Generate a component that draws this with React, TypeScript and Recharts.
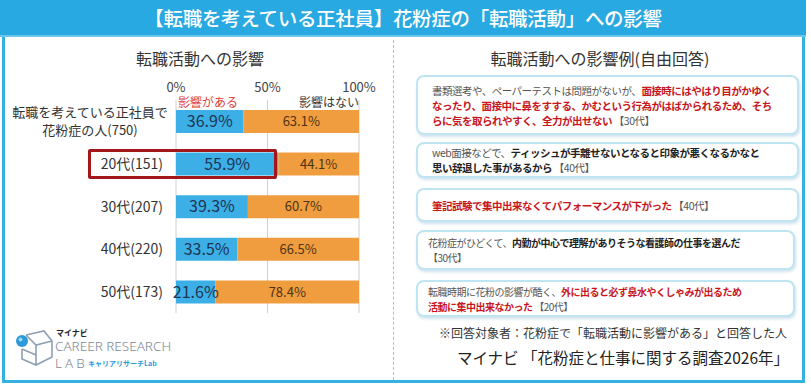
import React from "react";
import {
  BarChart,
  Bar,
  XAxis,
  YAxis,
  CartesianGrid,
  LabelList,
} from "recharts";

const categories = [
  "転職を考えている正社員で\n花粉症の人(750)",
  "20代(151)",
  "30代(207)",
  "40代(220)",
  "50代(173)",
];
const affected = [36.9, 55.9, 39.3, 33.5, 21.6];
const notAffected = [63.1, 44.1, 60.7, 66.5, 78.4];
const xTicks = [0, 50, 100];

const data = categories.map((name, i) => ({
  name,
  affected: affected[i],
  notAffected: notAffected[i],
}));

const FONT = '"Noto Sans CJK JP", "Noto Sans", sans-serif';
const BLUE = "#3cb0e6";
const ORANGE = "#ef9d3e";
const FRAME = "#35b2e0";
const RED = "#c8161d";

function CategoryTick(props: any) {
  const { x, y, payload } = props;
  const lines = String(payload.value).split("\n");
  if (lines.length > 1) {
    return (
      <text x={x - 73} y={y} textAnchor="middle" fill="#333" fontSize={13} fontFamily={FONT}>
        {lines.map((l, i) => (
          <tspan key={i} x={x - 73} dy={i === 0 ? -4 : 18}>
            {l}
          </tspan>
        ))}
      </text>
    );
  }
  return (
    <text x={x} y={y} dy={5} textAnchor="end" fill="#333" fontSize={14} fontFamily={FONT}>
      {lines[0]}
    </text>
  );
}

type Seg = { t: string; c?: "red" | "bold" | "gray" };

const comments: Seg[][][] = [
  [
    [
      { t: "書類選考や、ペーパーテストは問題がないが、", c: "gray" },
      { t: "面接時にはやはり目がかゆく", c: "red" },
    ],
    [{ t: "なったり、面接中に鼻をすする、かむという行為がはばかられるため、そち", c: "red" }],
    [
      { t: "らに気を取られやすく、全力が出せない", c: "red" },
      { t: " 【30代】", c: "gray" },
    ],
  ],
  [
    [
      { t: "web面接などで、", c: "gray" },
      { t: "ティッシュが手離せないとなると印象が悪くなるかなと", c: "bold" },
    ],
    [
      { t: "思い辞退した事があるから", c: "bold" },
      { t: " 【40代】", c: "gray" },
    ],
  ],
  [
    [
      { t: "筆記試験で集中出来なくてパフォーマンスが下がった", c: "red" },
      { t: " 【40代】", c: "gray" },
    ],
  ],
  [
    [
      { t: "花粉症がひどくて、", c: "gray" },
      { t: "内勤が中心で理解がありそうな看護師の仕事を選んだ", c: "bold" },
    ],
    [{ t: "【30代】", c: "gray" }],
  ],
  [
    [
      { t: "転職時期に花粉の影響が酷く、", c: "gray" },
      { t: "外に出ると必ず鼻水やくしゃみが出るため", c: "red" },
    ],
    [
      { t: "活動に集中出来なかった", c: "red" },
      { t: " 【20代】", c: "gray" },
    ],
  ],
];

const boxes = [
  { top: 75, height: 60, pad: 14, fs: 10.5 },
  { top: 142, height: 36, pad: 14, fs: 10.5 },
  { top: 188, height: 34, pad: 14, fs: 10.5 },
  { top: 230, height: 40, pad: 10, fs: 10 },
  { top: 280, height: 37, pad: 10, fs: 10 },
];

function segStyle(c?: string): React.CSSProperties {
  if (c === "red") return { color: RED, fontWeight: 600 };
  if (c === "bold") return { color: "#222", fontWeight: 600 };
  return { color: "#555" };
}

function Logo() {
  return (
    <div style={{ position: "absolute", left: 14, top: 325, width: 170, height: 45 }}>
      <svg width={40} height={40} style={{ position: "absolute", left: 0, top: 4 }}>
        <path
          d="M12 6 L30 2 L38 12 L38 28 L22 36 L8 30 L8 20 M12 6 L22 16 L38 12 M22 16 L22 36 M8 20 L22 26"
          fill="none"
          stroke="#8fa0b2"
          strokeWidth={1.6}
        />
        <circle cx={8} cy={12} r={6} fill="#2a9ad8" />
        <circle cx={6.5} cy={10.5} r={2} fill="#9fd6f5" />
      </svg>
      <div style={{ position: "absolute", left: 42, top: 2, fontSize: 8, fontWeight: 700, color: "#222", fontFamily: FONT }}>
        マイナビ
      </div>
      <div style={{ position: "absolute", left: 41, top: 12, fontSize: 13.5, fontWeight: 300, color: "#7d8896", fontFamily: '"Noto Sans", sans-serif', whiteSpace: "nowrap" }}>
        CAREER RESEARCH
      </div>
      <div style={{ position: "absolute", left: 41, top: 29, fontSize: 13.5, fontWeight: 300, color: "#7d8896", fontFamily: '"Noto Sans", sans-serif', letterSpacing: 3 }}>
        LAB
      </div>
      <div style={{ position: "absolute", left: 74, top: 33, fontSize: 7, fontWeight: 700, color: "#2a9ad8", fontFamily: FONT, whiteSpace: "nowrap" }}>
        キャリアリサーチLab
      </div>
    </div>
  );
}

export default function App() {
  return (
    <div
      style={{
        position: "absolute",
        left: 0,
        top: 0,
        width: 811,
        height: 387,
        background: "#fff",
        fontFamily: FONT,
        overflow: "hidden",
      }}
    >
      {/* frame */}
      <div
        style={{
          position: "absolute",
          left: 2,
          top: 1,
          width: 804 - 7,
          height: 384 - 8,
          border: `3.5px solid ${FRAME}`,
        }}
      />
      {/* title bar */}
      <div
        style={{
          position: "absolute",
          left: 0,
          top: 0,
          width: 806,
          height: 35,
          background: "#29a9e1",
          borderBottom: "2px solid #6cc6ec",
          color: "#fff",
          fontSize: 19.5,
          fontWeight: 500,
          textAlign: "center",
          lineHeight: "35px",
          letterSpacing: -0.3,
        }}
      >
        【転職を考えている正社員】花粉症の「転職活動」への影響
      </div>

      {/* headings */}
      <div style={{ position: "absolute", left: 100, width: 200, top: 46, textAlign: "center", fontSize: 16, color: "#333" }}>
        転職活動への影響
      </div>
      <div style={{ position: "absolute", left: 460, width: 280, top: 46, textAlign: "center", fontSize: 16, color: "#333" }}>
        転職活動への影響例(自由回答)
      </div>

      {/* separator */}
      <div style={{ position: "absolute", left: 393, top: 40, height: 340, borderLeft: "1px dashed #bbb" }} />

      {/* chart */}
      <div style={{ position: "absolute", left: 0, top: 0 }}>
        <BarChart
          width={390}
          height={320}
          data={data}
          layout="vertical"
          margin={{ top: 78, right: 31, bottom: 7, left: 0 }}
          barSize={23}
        >
          <CartesianGrid horizontal={false} vertical stroke="#d0d0d0" />
          <XAxis
            type="number"
            orientation="top"
            domain={[0, 100]}
            ticks={xTicks}
            tickFormatter={(v) => `${v}%`}
            axisLine={false}
            tickLine={false}
            tickSize={0}
            tickMargin={8}
            height={22}
            tick={{ fill: "#444", fontSize: 13, fontFamily: FONT }}
          />
          <YAxis
            type="category"
            dataKey="name"
            width={176}
            axisLine={false}
            tickLine={false}
            tickSize={0}
            tickMargin={13}
            interval={0}
            tick={<CategoryTick />}
          />
          <Bar dataKey="affected" stackId="a" fill={BLUE} isAnimationActive={false}>
            <LabelList
              dataKey="affected"
              position="center"
              formatter={(v: any) => `${v}%`}
              style={{ fill: "#1e3553", fontSize: 16, fontFamily: FONT }}
            />
          </Bar>
          <Bar dataKey="notAffected" stackId="a" fill={ORANGE} isAnimationActive={false}>
            <LabelList
              dataKey="notAffected"
              position="center"
              formatter={(v: any) => `${v}%`}
              style={{ fill: "#4e3214", fontSize: 13, fontFamily: FONT }}
            />
          </Bar>
        </BarChart>
      </div>

      {/* series labels */}
      <div style={{ position: "absolute", left: 178, top: 96, fontSize: 12, lineHeight: "12px", color: "#e0403a" }}>影響がある</div>
      <div style={{ position: "absolute", left: 299, top: 96, fontSize: 12, lineHeight: "12px", color: "#333" }}>影響はない</div>

      {/* highlight */}
      <div
        style={{
          position: "absolute",
          left: 88,
          top: 149,
          width: 189 - 6,
          height: 30 - 6,
          border: "3px solid #a3161a",
          borderRadius: 2,
        }}
      />

      <Logo />

      {/* comment boxes */}
      {comments.map((lines, i) => {
        const b = boxes[i];
        return (
          <div
            key={i}
            style={{
              position: "absolute",
              left: 418,
              top: b.top,
              width: 369 - 4,
              height: b.height - 4,
              border: "2px solid #bfe4f2",
              borderRadius: 8,
              boxShadow: "1px 2px 3px rgba(120,170,200,0.35)",
              background: "#fff",
              display: "flex",
              flexDirection: "column",
              justifyContent: "center",
              paddingLeft: b.pad,
              boxSizing: "content-box",
              marginLeft: -2,
            }}
          >
            {lines.map((segs, j) => (
              <div key={j} style={{ fontSize: b.fs, lineHeight: "15px", whiteSpace: "nowrap", letterSpacing: -0.5 }}>
                {segs.map((s, k) => (
                  <span key={k} style={segStyle(s.c)}>
                    {s.t}
                  </span>
                ))}
              </div>
            ))}
          </div>
        );
      })}

      <div style={{ position: "absolute", right: 24, top: 324, fontSize: 12, color: "#333", whiteSpace: "nowrap" }}>
        ※回答対象者：花粉症で「転職活動に影響がある」と回答した人
      </div>
      <div style={{ position: "absolute", right: 22, top: 346, fontSize: 15.5, color: "#222", whiteSpace: "nowrap" }}>
        マイナビ 「花粉症と仕事に関する調査2026年」
      </div>
    </div>
  );
}
